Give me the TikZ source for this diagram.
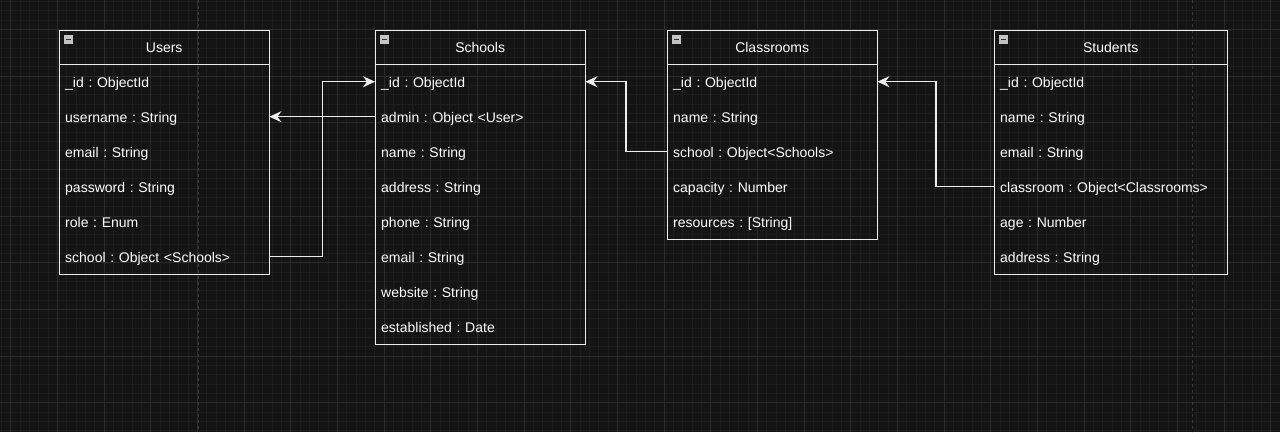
\documentclass[tikz,border=0pt]{standalone}
\usepackage{fontspec}
\setmainfont{Liberation Sans}
\usetikzlibrary{arrows.meta}
\definecolor{bg}{HTML}{141414}
\definecolor{gmin}{HTML}{1D1D1D}
\definecolor{gmaj}{HTML}{2B2B2B}
\definecolor{pg}{HTML}{3A3A3A}
\definecolor{fg}{HTML}{EDEDED}
\definecolor{icon}{HTML}{C4C4C4}
\begin{document}
\frenchspacing
\begin{tikzpicture}[x=1pt,y=-1pt,
  font=\fontsize{14}{16}\selectfont,
  tbl/.style={draw=fg, line width=1.4pt, anchor=north west, inner sep=0pt},
  hdr/.style={anchor=north west, minimum height=34pt, inner sep=0pt, text=white, text height=12pt, text depth=1pt},
  row/.style={anchor=north west, minimum height=35pt, inner xsep=6pt, inner ysep=0pt, align=left, text=white, text height=12pt, text depth=1pt},
  hline/.style={draw=fg, line width=1.4pt},
  conn/.style={draw=fg, line width=1.4pt, -{Stealth[length=12pt,width=11pt,inset=4pt]}},
  minus/.style={fill=icon, minimum size=9pt, inner sep=0pt,
    path picture={\draw[black!80, line width=1pt] ([xshift=2pt]path picture bounding box.west) -- ([xshift=-2pt]path picture bounding box.east);}}
]
\fill[bg] (0,0) rectangle (1280,432);
\useasboundingbox (0,0) rectangle (1280,432);
% grid
\foreach \i in {-1,...,137} {\pgfmathsetmacro\xx{10.667+\i*9.3333}
  \draw[gmin, line width=0.6pt] (\xx,0) -- (\xx,432);}
\foreach \i in {-4,...,44} {\pgfmathsetmacro\yy{29.333+\i*9.3333}
  \draw[gmin, line width=0.6pt] (0,\yy) -- (1280,\yy);}
\foreach \i in {0,...,27} {\pgfmathsetmacro\xx{10.667+\i*46.667}
  \draw[gmaj, line width=0.8pt] (\xx,0) -- (\xx,432);}
\foreach \i in {-1,...,9} {\pgfmathsetmacro\yy{29.333+\i*46.667}
  \draw[gmaj, line width=0.8pt] (0,\yy) -- (1280,\yy);}
\draw[pg, line width=1pt, dash pattern=on 3pt off 3pt] (198.3,0) -- (198.3,432);
\draw[pg, line width=1pt, dash pattern=on 3pt off 3pt] (1192.7,0) -- (1192.7,432);

% Users
\node[tbl, minimum width=210pt, minimum height=244pt] (users) at (59,30) {};
\node[hdr, minimum width=210pt] (users-h) at (59,30) {Users};
\draw[hline] (users-h.south west) -- (users-h.south east);
\node[minus] (users-m) at (68.5,39) {};
\foreach \n/\t [count=\k from 0] in {id/{\_id : ObjectId}, username/{username : String}, email/{email : String}, password/{password : String}, role/{role : Enum}, school/{school : Object <Schools>}}
  {\node[row, text width=198pt] (users-\n) at (59,{64+35*\k}) {\t};}

% Schools
\node[tbl, minimum width=210pt, minimum height=314pt] (schools) at (375,30) {};
\node[hdr, minimum width=210pt] (schools-h) at (375,30) {Schools};
\draw[hline] (schools-h.south west) -- (schools-h.south east);
\node[minus] (schools-m) at (384.5,39) {};
\foreach \n/\t [count=\k from 0] in {id/{\_id : ObjectId}, admin/{admin : Object <User>}, name/{name : String}, address/{address : String}, phone/{phone : String}, email/{email : String}, website/{website : String}, established/{established : Date}}
  {\node[row, text width=198pt] (schools-\n) at (375,{64+35*\k}) {\t};}

% Classrooms
\node[tbl, minimum width=210pt, minimum height=209pt] (classrooms) at (667,30) {};
\node[hdr, minimum width=210pt] (classrooms-h) at (667,30) {Classrooms};
\draw[hline] (classrooms-h.south west) -- (classrooms-h.south east);
\node[minus] (classrooms-m) at (676.5,39) {};
\foreach \n/\t [count=\k from 0] in {id/{\_id : ObjectId}, name/{name : String}, school/{school : Object<Schools>}, capacity/{capacity : Number}, resources/{resources : [String]}}
  {\node[row, text width=198pt] (classrooms-\n) at (667,{64+35*\k}) {\t};}

% Students
\node[tbl, minimum width=233pt, minimum height=244pt] (students) at (994,30) {};
\node[hdr, minimum width=233pt] (students-h) at (994,30) {Students};
\draw[hline] (students-h.south west) -- (students-h.south east);
\node[minus] (students-m) at (1003.5,39) {};
\foreach \n/\t [count=\k from 0] in {id/{\_id : ObjectId}, name/{name : String}, email/{email : String}, classroom/{classroom : Object<Classrooms>}, age/{age : Number}, address/{address : String}}
  {\node[row, text width=221pt] (students-\n) at (994,{64+35*\k}) {\t};}

% connectors
\draw[conn] (users-school.east) -- ++(53,0) |- (schools-id.west);
\draw[conn] (schools-admin.west) -- (users-username.east);
\draw[conn] (classrooms-school.west) -- ++(-41,0) |- (schools-id.east);
\draw[conn] (students-classroom.west) -- ++(-58,0) |- (classrooms-id.east);
\end{tikzpicture}
\end{document}
